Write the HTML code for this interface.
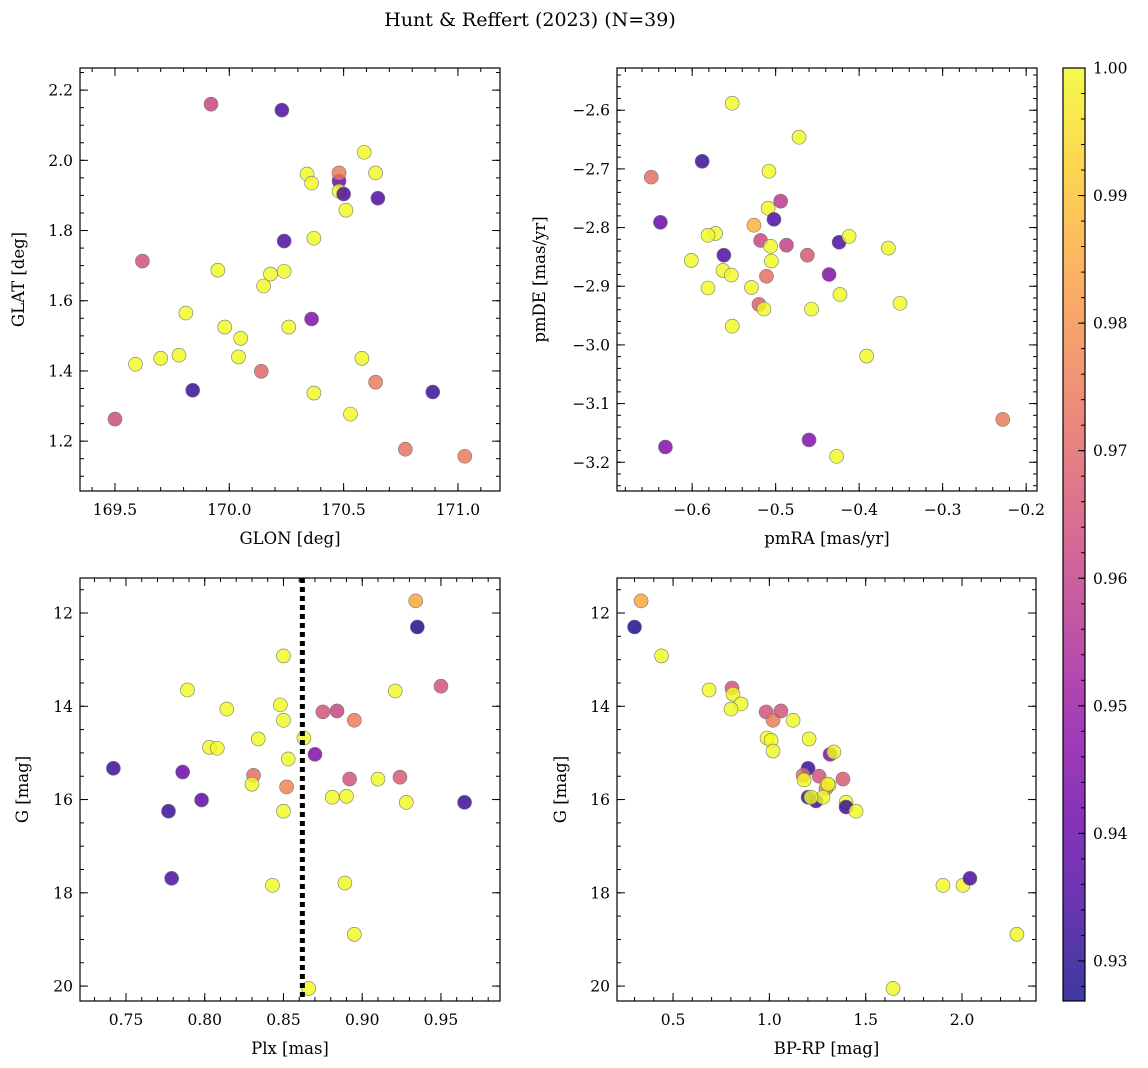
<!DOCTYPE html>
<html><head><meta charset="utf-8">
<style>
body{margin:0;background:#fff;}
svg{display:block;font-family:"DejaVu Serif","Liberation Serif",serif;}
</style></head>
<body>
<svg id="fig" width="1148" height="1068" viewBox="0 0 1148 1068">
<text x="530" y="26" font-size="19" text-anchor="middle">Hunt &amp; Reffert (2023) (N=39)</text>
</svg>
<script>
// Panel 1: GLON / GLAT
const p1Glon=[169.50,169.62,169.84,169.70,169.59,169.78,169.81,169.92,169.95,169.98,170.04,170.05,170.14,170.15,170.18,170.23,170.24,170.24,170.26,170.34,170.36,170.36,170.37,170.37,170.48,170.48,170.48,170.50,170.51,170.53,170.58,170.59,170.64,170.64,170.65,170.77,170.89,171.03];
const p1Glat=[1.263,1.713,1.345,1.436,1.419,1.445,1.565,2.160,1.687,1.525,1.440,1.493,1.399,1.642,1.676,2.143,1.770,1.684,1.525,1.961,1.935,1.548,1.337,1.778,1.941,1.964,1.912,1.904,1.858,1.277,1.436,2.023,1.964,1.368,1.892,1.177,1.340,1.157];
const p1Prob=[0.963,0.965,0.932,1,1,1,1,0.962,1,1,1,1,0.970,1,1,0.935,0.935,1,1,1,1,0.945,1,1,0.940,0.975,1,0.935,1,1,1,1,1,0.975,0.935,0.973,0.932,0.975];
// Panel 2: pmRA / pmDE
const p2Pmra=[-0.552,-0.472,-0.588,-0.649,-0.508,-0.494,-0.509,-0.502,-0.638,-0.526,-0.572,-0.581,-0.518,-0.506,-0.487,-0.462,-0.562,-0.601,-0.505,-0.563,-0.553,-0.511,-0.581,-0.529,-0.520,-0.514,-0.552,-0.457,-0.424,-0.412,-0.365,-0.436,-0.423,-0.351,-0.391,-0.228,-0.460,-0.632,-0.427];
const p2Pmde=[-2.588,-2.646,-2.687,-2.714,-2.704,-2.755,-2.767,-2.786,-2.791,-2.796,-2.810,-2.813,-2.822,-2.832,-2.830,-2.847,-2.847,-2.856,-2.857,-2.873,-2.881,-2.883,-2.903,-2.902,-2.931,-2.939,-2.968,-2.939,-2.825,-2.815,-2.835,-2.880,-2.914,-2.929,-3.019,-3.127,-3.162,-3.174,-3.190];
const p2Prob=[1,1,0.932,0.972,1,0.958,1,0.935,0.940,0.987,1,1,0.962,1,0.960,0.966,0.935,1,1,1,1,0.972,1,1,0.968,1,1,1,0.935,1,1,0.945,1,1,1,0.975,0.945,0.945,1];
// Panel 3: Plx / G
const p3Plx=[0.934,0.935,0.950,0.850,0.789,0.921,0.848,0.814,0.875,0.884,0.895,0.850,0.834,0.803,0.808,0.863,0.870,0.742,0.853,0.786,0.831,0.892,0.910,0.924,0.830,0.852,0.777,0.881,0.890,0.798,0.928,0.965,0.850,0.779,0.843,0.889,0.895,0.866];
const p3G=[11.74,12.30,13.57,12.92,13.65,13.67,13.97,14.06,14.12,14.10,14.30,14.30,14.70,14.88,14.90,14.68,15.03,15.33,15.13,15.41,15.48,15.56,15.56,15.52,15.67,15.73,16.25,15.95,15.93,16.01,16.06,16.06,16.25,17.69,17.84,17.79,18.89,20.05];
const p3Prob=[0.985,0.928,0.965,1,1,1,1,1,0.965,0.962,0.975,1,1,1,1,1,0.945,0.932,1,0.940,0.972,0.965,1,0.967,1,0.977,0.932,1,1,0.938,1,0.932,1,0.935,1,1,1,1];
const p3Line=[0.862];
// Panel 4: BP-RP / G
const p4Bprp=[0.334,0.300,0.440,0.687,0.806,0.811,0.853,0.801,0.983,1.019,1.060,1.123,0.988,1.009,1.206,1.019,1.315,1.335,1.201,1.175,1.180,1.258,1.382,1.310,1.294,1.304,1.201,1.242,1.278,1.216,1.398,1.398,1.450,1.901,2.005,2.041,2.285,1.642];
const p4G=[11.74,12.30,12.92,13.65,13.61,13.74,13.95,14.06,14.12,14.30,14.10,14.30,14.68,14.73,14.70,14.96,15.03,14.98,15.33,15.48,15.58,15.50,15.56,15.69,15.76,15.67,15.95,16.03,15.95,15.95,16.06,16.16,16.25,17.84,17.84,17.69,18.89,20.05];
const p4Prob=[0.985,0.928,1,1,0.965,1,1,1,0.965,0.975,0.965,1,1,1,1,1,0.945,1,0.932,0.972,1,0.965,0.967,1,0.977,1,0.932,0.932,1,1,1,0.932,1,1,1,0.935,1,1];
// Colorbar ticks
const cbTicks=[0.93,0.94,0.95,0.96,0.97,0.98,0.99,1.00];

const NS='http://www.w3.org/2000/svg';
const svg=document.getElementById('fig');
const VMIN=0.92686, VMAX=1.0;
const plasma=['#0d0887','#41049d','#6a00a8','#8f0da4','#b12a90','#cc4778','#e16462','#f2844b','#fca636','#fcce25','#f0f921'];
function hex(h){return [1,3,5].map(i=>parseInt(h.substr(i,2),16));}
function cmap(v){let t=(v-VMIN)/(VMAX-VMIN);t=Math.max(0,Math.min(1,t));const s=t*10,i=Math.min(9,Math.floor(s)),f=s-i;const a=hex(plasma[i]),b=hex(plasma[i+1]);return 'rgb('+a.map((c,k)=>Math.round(c+(b[k]-c)*f)).join(',')+')';}
function el(tag,attrs,parent){const e=document.createElementNS(NS,tag);for(const k in attrs)e.setAttribute(k,attrs[k]);(parent||svg).appendChild(e);return e;}

function panel(cfg){
  const g=el('g',{});
  
  
  const {x0,x1,y0,y1}=cfg.box;
  const sx=v=>x0+(v-cfg.xd[0])/(cfg.xd[1]-cfg.xd[0])*(x1-x0);
  const sy=v=>cfg.yinv? y0+(v-cfg.yd[0])/(cfg.yd[1]-cfg.yd[0])*(y1-y0) : y1-(v-cfg.yd[0])/(cfg.yd[1]-cfg.yd[0])*(y1-y0);
  const pts=el('g',{},g);
  
  
  for(let i=0;i<cfg.xs.length;i++){
    const c=el('circle',{cx:sx(cfg.xs[i]),cy:sy(cfg.ys[i]),r:7,fill:cmap(cfg.pr[i]),'fill-opacity':0.82,stroke:'#777','stroke-width':0.6},pts);
    
    
  }
  if(cfg.vline){for(const v of cfg.vline){const l=el('line',{x1:sx(v),x2:sx(v),y1:y0,y2:y1,stroke:'#000','stroke-width':5,'stroke-dasharray':'5,4'},g);
    
    }}
  const fr=el('rect',{x:x0,y:y0,width:x1-x0,height:y1-y0,fill:'none',stroke:'#000','stroke-width':1.2},g);
  
  
  const tk=el('g',{stroke:'#000','stroke-width':1},g);
  const eps=1e-9;
  function ticks(d,step){const a=[];let s=Math.ceil((Math.min(d[0],d[1])-eps)/step);for(let v=s*step;v<=Math.max(d[0],d[1])+eps;v=(++s)*step)a.push(+v.toFixed(6));return a;}
  for(const v of ticks(cfg.xd,cfg.xminor)){const x=sx(v);el('line',{x1:x,x2:x,y1:y1,y2:y1-4},tk);el('line',{x1:x,x2:x,y1:y0,y2:y0+4},tk);}
  for(const v of ticks(cfg.yd,cfg.yminor)){const y=sy(v);el('line',{x1:x0,x2:x0+4,y1:y,y2:y},tk);el('line',{x1:x1,x2:x1-4,y1:y,y2:y},tk);}
  for(const v of ticks(cfg.xd,cfg.xmajor)){const x=sx(v);el('line',{x1:x,x2:x,y1:y1,y2:y1-8},tk);el('line',{x1:x,x2:x,y1:y0,y2:y0+8},tk);
    const t=el('text',{x:x,y:y1+24,'font-size':15.5,'text-anchor':'middle'},g);t.textContent=v.toFixed(cfg.xdec).replace('-','\u2212');
    
    }
  for(const v of ticks(cfg.yd,cfg.ymajor)){const y=sy(v);el('line',{x1:x0,x2:x0+8,y1:y,y2:y},tk);el('line',{x1:x1,x2:x1-8,y1:y,y2:y},tk);
    const t=el('text',{x:x0-7,y:y+5.5,'font-size':15.5,'text-anchor':'end'},g);t.textContent=v.toFixed(cfg.ydec).replace('-','\u2212');
    
    }
  const xl=el('text',{x:(x0+x1)/2,y:y1+53,'font-size':16.5,'text-anchor':'middle'},g);xl.textContent=cfg.xlabel;
  
  
  const yx=cfg.ylx, yy=(y0+y1)/2;
  const yl=el('text',{x:yx,y:yy,'font-size':16.5,'text-anchor':'middle',transform:'rotate(-90 '+yx+' '+yy+')'},g);yl.textContent=cfg.ylabel;
  
  
}

panel({name:'glon-glat-panel',box:{x0:80,x1:500,y0:68,y1:491},xd:[169.347,171.184],yd:[1.058,2.263],xs:p1Glon,ys:p1Glat,pr:p1Prob,xmajor:0.5,xminor:0.1,ymajor:0.2,yminor:0.05,xdec:1,ydec:1,xlabel:'GLON [deg]',ylabel:'GLAT [deg]',ylx:24});
panel({name:'pm-panel',box:{x0:617,x1:1037,y0:68,y1:491},xd:[-0.690,-0.187],yd:[-3.249,-2.528],xs:p2Pmra,ys:p2Pmde,pr:p2Prob,xmajor:0.1,xminor:0.02,ymajor:0.1,yminor:0.02,xdec:1,ydec:1,xlabel:'pmRA [mas/yr]',ylabel:'pmDE [mas/yr]',ylx:545});
panel({name:'plx-g-panel',box:{x0:80,x1:500,y0:578,y1:1001},xd:[0.7208,0.9875],yd:[11.249,20.32],yinv:true,xs:p3Plx,ys:p3G,pr:p3Prob,vline:p3Line,xmajor:0.05,xminor:0.01,ymajor:2,yminor:0.5,xdec:2,ydec:0,xlabel:'Plx [mas]',ylabel:'G [mag]',ylx:28});
panel({name:'cmd-panel',box:{x0:617,x1:1036,y0:578,y1:1001},xd:[0.209,2.384],yd:[11.249,20.32],yinv:true,xs:p4Bprp,ys:p4G,pr:p4Prob,xmajor:0.5,xminor:0.1,ymajor:2,yminor:0.5,xdec:1,ydec:0,xlabel:'BP-RP [mag]',ylabel:'G [mag]',ylx:566});

(function(){
  const cx0=1063,cx1=1085,cy0=68,cy1=1001;
  const g=el('g',{});
  
  
  const defs=el('defs',{},g);
  const lg=el('linearGradient',{id:'cbg',x1:0,y1:1,x2:0,y2:0},defs);
  plasma.forEach((c,i)=>el('stop',{offset:(i/10),'stop-color':c},lg));
  el('rect',{x:cx0,y:cy0,width:cx1-cx0,height:cy1-cy0,fill:'url(#cbg)','fill-opacity':0.8},g);
  el('rect',{x:cx0,y:cy0,width:cx1-cx0,height:cy1-cy0,fill:'none',stroke:'#000','stroke-width':1.2},g);
  const sy=v=>cy1-(v-VMIN)/(VMAX-VMIN)*(cy1-cy0);
  for(let k=0;k<=37;k++){const v=0.928+k*0.002;if(v>VMAX+1e-9)break;const y=sy(v);el('line',{x1:cx1,x2:cx1-4,y1:y,y2:y,stroke:'#000','stroke-width':1},g);}
  for(const v of cbTicks){const y=sy(v);el('line',{x1:cx1,x2:cx1-7,y1:y,y2:y,stroke:'#000','stroke-width':1},g);
    const t=el('text',{x:cx1+8,y:y+5.5,'font-size':15.5},g);t.textContent=v.toFixed(2);
    
    }
})();
</script>
</body></html>
